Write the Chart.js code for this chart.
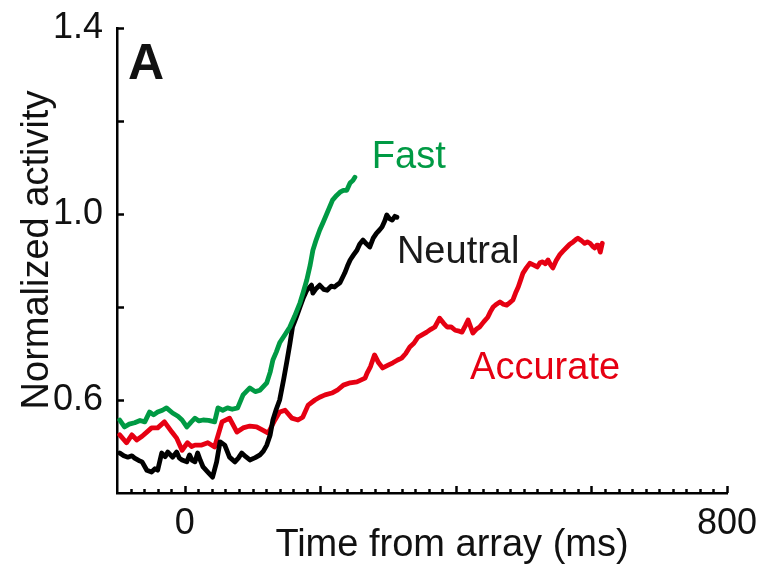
<!DOCTYPE html>
<html>
<head>
<meta charset="utf-8">
<script src="https://cdn.jsdelivr.net/npm/chart.js@4.4.1/dist/chart.umd.min.js"></script>
<style>
html,body{margin:0;padding:0;background:#fff;}
#wrap{width:761px;height:564px;position:relative;}
canvas{display:block;}
</style>
</head>
<body>
<div id="wrap"><canvas id="c" width="761" height="564"></canvas></div>
<script>
// ---- data (time in ms, normalized activity) ----
const fastTime = [-96,-89,-82,-74,-66,-59,-52,-46,-40,-33,-27,-18,-10,-4,3,9,15,21,27,35,44,49,56,63,70,78,86,96,104,111,121,126,130,135,140,148,155,162,170,175,180,185,189,194,199,205,210,218,224,229,234,239,244,248,251];
const fastValue = [0.557,0.542,0.548,0.551,0.556,0.553,0.574,0.568,0.574,0.578,0.583,0.572,0.565,0.557,0.542,0.552,0.561,0.555,0.557,0.556,0.553,0.583,0.578,0.583,0.580,0.583,0.611,0.626,0.618,0.621,0.637,0.660,0.686,0.703,0.723,0.741,0.757,0.780,0.809,0.833,0.858,0.890,0.922,0.945,0.965,0.985,1.002,1.030,1.040,1.047,1.051,1.051,1.067,1.072,1.079];

const neutralTime = [-96,-90,-84,-78,-74,-68,-63,-56,-49,-44,-40,-34,-29,-25,-18,-12,-8,-4,3,7,11,15,19,23,27,34,41,47,52,59,66,74,79,84,90,96,104,111,116,121,126,130,135,140,146,151,155,159,165,170,175,180,187,189,194,199,205,210,216,221,225,229,236,240,244,249,254,258,263,268,273,278,283,287,291,295,298,302,306,310,313];
const neutralValue = [0.486,0.480,0.477,0.480,0.475,0.470,0.467,0.449,0.445,0.452,0.449,0.486,0.478,0.488,0.477,0.488,0.475,0.471,0.467,0.482,0.470,0.467,0.486,0.470,0.456,0.445,0.434,0.467,0.510,0.503,0.477,0.467,0.475,0.486,0.478,0.471,0.476,0.482,0.490,0.503,0.525,0.557,0.580,0.600,0.645,0.686,0.720,0.757,0.780,0.800,0.820,0.836,0.847,0.830,0.840,0.847,0.838,0.836,0.845,0.843,0.848,0.852,0.873,0.888,0.901,0.912,0.922,0.935,0.944,0.936,0.929,0.948,0.959,0.965,0.972,0.985,0.998,0.990,0.987,0.995,0.993];

const accurateTime = [-96,-86,-78,-71,-63,-56,-49,-40,-30,-19,-12,-4,4,10,15,25,34,44,55,66,77,86,96,106,115,123,133,140,148,158,167,174,182,192,199,207,217,225,234,244,254,266,269,274,280,286,292,300,307,314,320,326,332,338,344,350,357,363,369,376,382,387,393,399,405,409,414,418,425,430,435,441,447,451,455,460,465,470,475,480,484,488,492,496,499,504,509,515,520,524,528,532,536,540,543,548,553,558,564,568,573,577,580,585,590,594,598,602,605,608,610,613,616];
const accurateValue = [0.525,0.508,0.525,0.514,0.522,0.531,0.540,0.540,0.553,0.531,0.518,0.492,0.508,0.500,0.503,0.503,0.508,0.499,0.553,0.561,0.531,0.540,0.544,0.542,0.535,0.529,0.557,0.574,0.578,0.561,0.557,0.563,0.589,0.600,0.606,0.611,0.615,0.621,0.632,0.637,0.639,0.647,0.658,0.672,0.697,0.680,0.669,0.675,0.680,0.686,0.690,0.700,0.714,0.722,0.735,0.740,0.746,0.752,0.757,0.776,0.765,0.757,0.757,0.750,0.748,0.746,0.760,0.772,0.744,0.752,0.757,0.768,0.778,0.790,0.800,0.806,0.811,0.806,0.804,0.810,0.815,0.830,0.843,0.860,0.873,0.884,0.894,0.890,0.886,0.895,0.897,0.893,0.901,0.890,0.884,0.900,0.912,0.920,0.929,0.935,0.940,0.945,0.948,0.943,0.937,0.940,0.937,0.930,0.927,0.933,0.933,0.918,0.937];

const seriesNames = ['Fast', 'Neutral', 'Accurate'];
const yTickValues = [1.4, 1.0, 0.6];
const yTickLabels = ['1.4', '1.0', '0.6'];
const xTickValues = [0, 800];
const xTickLabels = ['0', '800'];
const panelLabel = 'A';
const xTitle = 'Time from array (ms)';
const yTitle = 'Normalized activity';

// ---- styles / positions ----
const GREEN = '#009a44';
const RED = '#e60012';
const BLACK = '#000000';
const FONT = '"Liberation Sans", Arial, Helvetica, sans-serif';
const seriesColors = [GREEN, BLACK, RED];
const seriesTextColors = [GREEN, '#1a1a1a', RED];
// label anchors in data coordinates (left edge, vertical middle)
const seriesLabelAnchor = [{x: 276, y: 1.122}, {x: 313, y: 0.918}, {x: 421, y: 0.667}];

function pts(t, v) { return t.map((x, i) => ({x: x, y: v[i]})); }

const decor = {
  id: 'decor',
  afterDraw(chart) {
    const ctx = chart.ctx;
    const xs = chart.scales.x, ys = chart.scales.y;
    const area = chart.chartArea;
    ctx.save();
    ctx.strokeStyle = '#000';
    ctx.lineWidth = 2.5;
    ctx.lineCap = 'butt';
    // x ticks (inward): minor every 20, major every 200
    for (let v = xs.min; v <= xs.max + 1e-9; v += 20) {
      if (v === xs.min) continue;
      const px = Math.round(xs.getPixelForValue(v)) + 0.5;
      const len = (v % 200 === 0) ? 7 : 4;
      ctx.beginPath();
      ctx.moveTo(px, area.bottom);
      ctx.lineTo(px, area.bottom - len);
      ctx.stroke();
    }
    // y ticks (inward) every 0.2
    for (let k = 1; k <= 5; k++) {
      const v = 0.4 + k * 0.2;
      const py = Math.round(ys.getPixelForValue(v)) + 0.5;
      ctx.beginPath();
      ctx.moveTo(area.left, py);
      ctx.lineTo(area.left + 7, py);
      ctx.stroke();
    }
    // series labels
    ctx.font = '38px ' + FONT;
    ctx.textBaseline = 'middle';
    ctx.textAlign = 'left';
    seriesNames.forEach((n, i) => {
      ctx.fillStyle = seriesTextColors[i];
      ctx.fillText(n, xs.getPixelForValue(seriesLabelAnchor[i].x), ys.getPixelForValue(seriesLabelAnchor[i].y));
    });
    // panel label
    ctx.fillStyle = '#111';
    ctx.font = 'bold 50px ' + FONT;
    ctx.textBaseline = 'alphabetic';
    ctx.fillText(panelLabel, area.left + 11, 79);
    // axis titles
    ctx.font = '38px ' + FONT;
    ctx.textAlign = 'center';
    ctx.fillStyle = '#111';
    ctx.fillText(xTitle, 452, 556);
    ctx.translate(48, 250);
    ctx.rotate(-Math.PI / 2);
    ctx.fillText(yTitle, 0, 0);
    ctx.restore();
  }
};

new Chart(document.getElementById('c'), {
  type: 'scatter',
  data: {
    datasets: [
      {label: seriesNames[0], data: pts(fastTime, fastValue)},
      {label: seriesNames[1], data: pts(neutralTime, neutralValue)},
      {label: seriesNames[2], data: pts(accurateTime, accurateValue)}
    ].map((d, i) => Object.assign(d, {
      showLine: true, pointRadius: 0, borderWidth: 4.8, borderColor: seriesColors[i],
      backgroundColor: seriesColors[i], tension: 0, fill: false, borderJoinStyle: 'round', borderCapStyle: 'round'
    }))
  },
  options: {
    responsive: false,
    animation: false,
    devicePixelRatio: 1,
    layout: {padding: {left: 0, right: 34, top: 28, bottom: 0}},
    plugins: {legend: {display: false}, tooltip: {enabled: false}},
    scales: {
      x: {
        type: 'linear', min: -100, max: 800,
        grid: {display: false, drawTicks: false},
        border: {display: true, color: '#000', width: 2.5},
        ticks: {
          stepSize: 100, autoSkip: false, maxRotation: 0, padding: 9, color: '#111',
          font: {family: FONT, size: 36},
          callback: (v) => { const i = xTickValues.indexOf(v); return i >= 0 ? xTickLabels[i] : ''; }
        },
        afterFit(s) { s.height = 71; s.paddingLeft = 0; s.paddingRight = 0; }
      },
      y: {
        type: 'linear', min: 0.4, max: 1.4,
        grid: {display: false, drawTicks: false},
        border: {display: true, color: '#000', width: 2.5},
        ticks: {
          stepSize: 0.2, autoSkip: false, padding: 14, color: '#111',
          font: {family: FONT, size: 36},
          callback: (v) => { const i = yTickValues.findIndex(t => Math.abs(t - v) < 1e-6); return i >= 0 ? yTickLabels[i] : ''; }
        },
        afterFit(s) { s.width = 117; s.paddingTop = 0; s.paddingBottom = 0; }
      }
    }
  },
  plugins: [decor]
});
</script>
</body>
</html>
